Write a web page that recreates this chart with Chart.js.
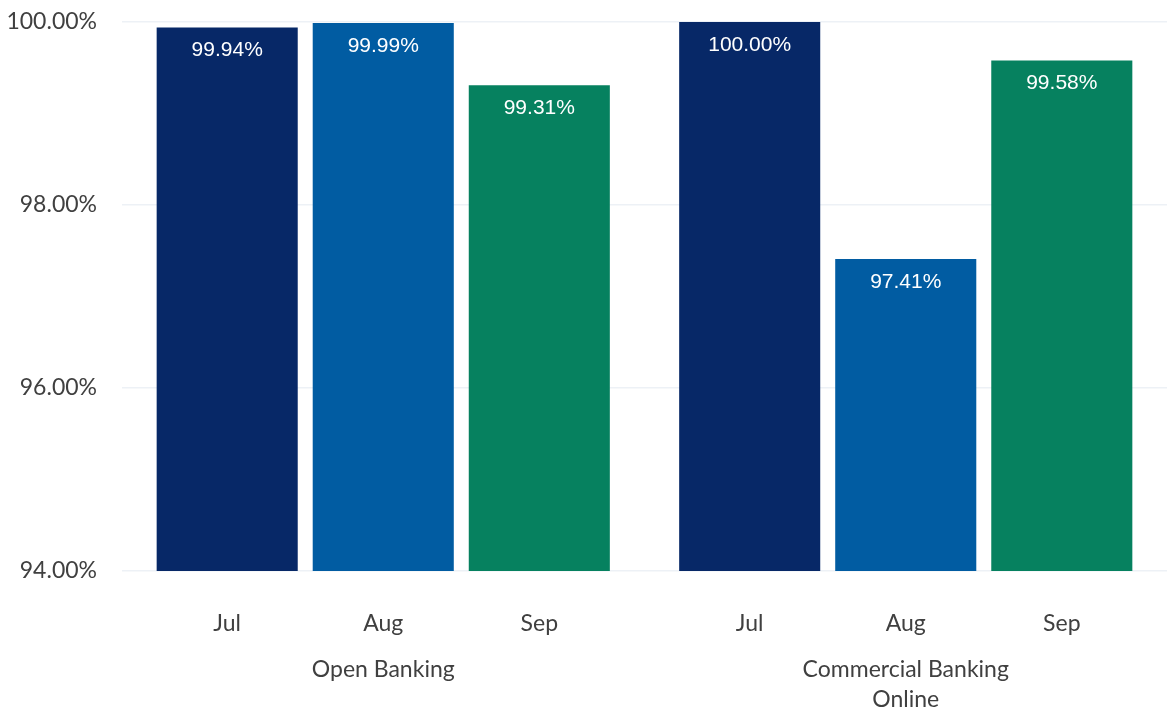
<!DOCTYPE html>
<html>
<head>
<meta charset="utf-8">
<script src="https://cdn.jsdelivr.net/npm/chart.js@4"></script>
<style>
  html, body { margin: 0; padding: 0; background: #fff; }
  #wrap { width: 1167px; height: 712px; }
</style>
</head>
<body>
<div id="wrap"><canvas id="c"></canvas></div>
<script>
// groups on the x axis
const groups = ['Open Banking', ['Commercial Banking', 'Online']];
// months = one dataset each
const months = ['Jul', 'Aug', 'Sep'];
const julValues = [99.94, 100.00];
const augValues = [99.99, 97.41];
const sepValues = [99.31, 99.58];
const yTicks = [94, 96, 98, 100];

const colors = ['#072867', '#015ca2', '#06815f'];
const tickFont = { family: 'Lato', size: 23 };

// draws the value inside each bar and the month name under it
const barText = {
  id: 'barText',
  afterDatasetsDraw(chart) {
    const ctx = chart.ctx;
    ctx.save();
    ctx.textAlign = 'center';
    ctx.textBaseline = 'middle';
    chart.data.datasets.forEach((ds, i) => {
      const meta = chart.getDatasetMeta(i);
      meta.data.forEach((el, j) => {
        ctx.fillStyle = '#ffffff';
        ctx.font = '21px "Liberation Sans", Arial, sans-serif';
        ctx.fillText(ds.data[j].toFixed(2) + '%', el.x, el.y + 23);
        ctx.fillStyle = '#404040';
        ctx.font = '23px Lato';
        ctx.fillText(ds.label, el.x, chart.chartArea.bottom + 53);
      });
    });
    ctx.restore();
  }
};

new Chart(document.getElementById('c'), {
  type: 'bar',
  data: {
    labels: groups,
    datasets: [
      { label: months[0], data: julValues, backgroundColor: colors[0] },
      { label: months[1], data: augValues, backgroundColor: colors[1] },
      { label: months[2], data: sepValues, backgroundColor: colors[2] }
    ]
  },
  options: {
    responsive: true,
    maintainAspectRatio: false,
    animation: false,
    layout: { padding: { left: 0, right: -3, top: 22, bottom: 0 } },
    datasets: {
      bar: { barPercentage: 0.904, categoryPercentage: 0.896 }
    },
    plugins: {
      legend: { display: false },
      tooltip: { enabled: false }
    },
    scales: {
      x: {
        grid: { display: false, drawTicks: false },
        border: { display: false },
        afterFit(scale) { scale.height = 141; },
        ticks: { color: '#404040', font: { ...tickFont, lineHeight: 1.3 }, padding: 84, maxRotation: 0 }
      },
      y: {
        min: 94,
        max: 100,
        afterBuildTicks(scale) { scale.ticks = yTicks.map(v => ({ value: v })); },
        afterFit(scale) { scale.width = 122; scale.paddingTop = 0; scale.paddingBottom = 0; },
        grid: { color: '#edf1f6', lineWidth: 1.5, drawTicks: false },
        border: { display: false },
        ticks: {
          color: '#404040',
          font: tickFont,
          padding: 25,
          callback: v => v.toFixed(2) + '%'
        }
      }
    }
  },
  plugins: [barText]
});
</script>
</body>
</html>
